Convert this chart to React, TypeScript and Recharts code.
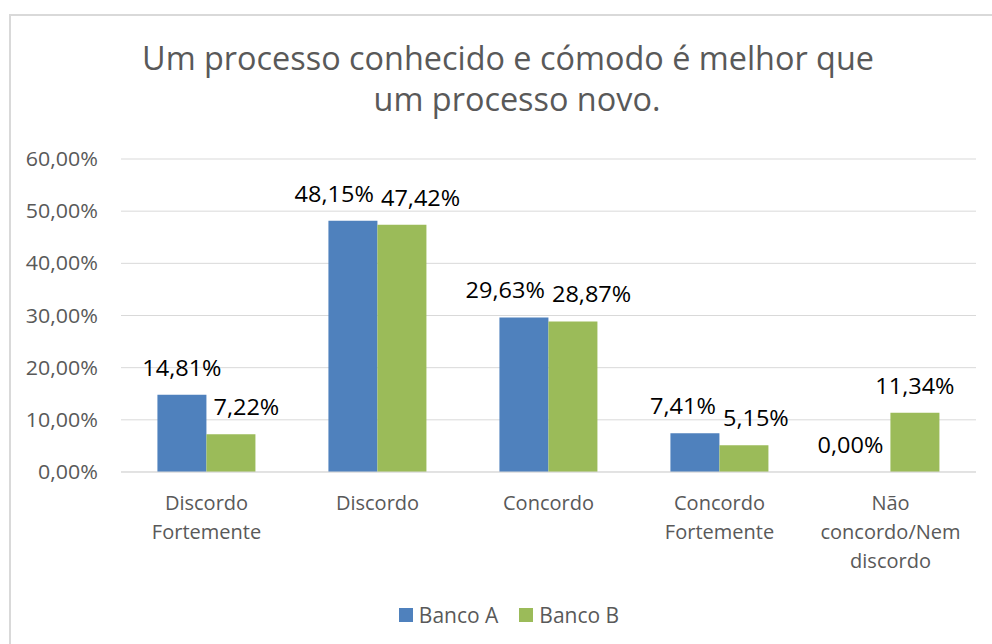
import { BarChart, Bar, XAxis, YAxis, CartesianGrid, Legend, LabelList } from "recharts";

const categories = [
  "Discordo\nFortemente",
  "Discordo",
  "Concordo",
  "Concordo\nFortemente",
  "Não\nconcordo/Nem\ndiscordo",
];
const bancoA = [14.81, 48.15, 29.63, 7.41, 0.0];
const bancoB = [7.22, 47.42, 28.87, 5.15, 11.34];
const yTicks = [0, 10, 20, 30, 40, 50, 60];
const seriesNames = ["Banco A", "Banco B"];
const titleLines = ["Um processo conhecido e cómodo é melhor que", "um processo novo."];

const data = categories.map((name, i) => ({ name, a: bancoA[i], b: bancoB[i] }));

const FONT = '"Open Sans", sans-serif';
const GRAY = "#595959";
const GRID = "#D9D9D9";
const BLUE = "#4F81BD";
const GREEN = "#9BBB59";

// plot box
const PLOT_TOP = 159;
const PLOT_LEFT = 121;
const Y_MAX = 60;

const LABEL_SIZE = 21;
const LABEL_SX = 1.12;
const GAP = 7;

const fmt = (v: number) => v.toFixed(2).replace(".", ",") + "%";

let ctx: CanvasRenderingContext2D | null = null;
function textWidth(s: string, size: number) {
  if (!ctx) ctx = document.createElement("canvas").getContext("2d");
  if (!ctx) return s.length * size * 0.56;
  ctx.font = `${size}px "Open Sans"`;
  return ctx.measureText(s).width;
}

// nudge the two labels of a category apart, the way Excel does
function placeLabels(i: number, barAX: number, bw: number, base: number) {
  const ppu = (base - PLOT_TOP) / Y_MAX;
  const topA = base - bancoA[i] * ppu;
  const topB = base - bancoB[i] * ppu;
  const wA = textWidth(fmt(bancoA[i]), LABEL_SIZE) * LABEL_SX;
  const wB = textWidth(fmt(bancoB[i]), LABEL_SIZE) * LABEL_SX;
  let cA = barAX + bw / 2;
  let cB = barAX + bw * 1.5;
  const yA = topA - 19;
  const yB = topB - 19;
  const mid = barAX + bw;

  if (yA + 4 > topB && cA + wA / 2 > mid - GAP) cA = mid - GAP - wA / 2;
  if (yB + 4 > topA && cB - wB / 2 < mid + GAP) cB = mid + GAP + wB / 2;

  const need = (wA + wB) / 2 + GAP;
  if (Math.abs(yA - yB) < 20 && cB - cA < need) {
    const d = need - (cB - cA);
    cA -= d / 2;
    cB += d / 2;
  }
  return { cA, cB, yA, yB };
}

const LabelText = ({ x, y, v }: { x: number; y: number; v: number }) => (
  <text
    transform={`translate(${x},${y}) scale(${LABEL_SX},1)`}
    textAnchor="middle"
    fontSize={LABEL_SIZE}
    fontFamily={FONT}
    fill="#000"
  >
    {fmt(v)}
  </text>
);

// both labels of a category are drawn from the Banco B bar (a 0 bar gets no label entry)
const PairLabel = (props: any) => {
  const x = Number(props.x);
  const y = Number(props.y);
  const width = Number(props.width);
  const height = Number(props.height);
  const index = props.index;
  const p = placeLabels(index, x - width, width, y + height);
  return (
    <g>
      <LabelText x={p.cA} y={p.yA} v={bancoA[index]} />
      <LabelText x={p.cB} y={p.yB} v={bancoB[index]} />
    </g>
  );
};

const YTick = (props: any) => {
  const { y, payload } = props;
  return (
    <text
      transform={`translate(${PLOT_LEFT - 23},${y + 7}) scale(1.07,1)`}
      textAnchor="end"
      fontSize={20}
      fontFamily={FONT}
      fill={GRAY}
    >
      {fmt(payload.value)}
    </text>
  );
};

const XTick = (props: any) => {
  const { x, y, payload } = props;
  const lines = String(payload.value).split("\n");
  return (
    <text textAnchor="middle" fontSize={20} fontFamily={FONT} fill={GRAY}>
      {lines.map((l, k) => (
        <tspan key={k} x={x} y={y + 38 + k * 29}>
          {l}
        </tspan>
      ))}
    </text>
  );
};

const LegendBox = () => (
  <div
    style={{
      display: "flex",
      justifyContent: "center",
      alignItems: "center",
      height: 24,
      fontFamily: FONT,
      fontSize: 21,
      lineHeight: "24px",
      color: GRAY,
    }}
  >
    {seriesNames.map((n, k) => (
      <div key={n} style={{ display: "flex", alignItems: "center", marginLeft: k ? 21 : 0 }}>
        <span style={{ width: 14, height: 14, background: k ? GREEN : BLUE, marginRight: 6 }} />
        <span>{n}</span>
      </div>
    ))}
  </div>
);

export default function App() {
  return (
    <div
      style={{
        position: "absolute",
        left: 0,
        top: 0,
        width: 992,
        height: 644,
        overflow: "hidden",
        background: "#fff",
      }}
    >
      <div
        style={{
          position: "absolute",
          left: 9,
          top: 14,
          width: 1100,
          height: 700,
          border: `2px solid ${GRID}`,
        }}
      />
      <div style={{ position: "absolute", left: 0, top: 0 }}>
        <BarChart
          width={992}
          height={644}
          data={data}
          margin={{ top: PLOT_TOP, right: 16, left: PLOT_LEFT - 100, bottom: 62 }}
          barCategoryGap="21.3%"
          barGap={0}
        >
          <CartesianGrid vertical={false} stroke={GRID} />
          <XAxis
            dataKey="name"
            interval={0}
            tick={<XTick />}
            tickLine={false}
            tickSize={0}
            tickMargin={0}
            axisLine={{ stroke: GRID }}
            height={110}
          />
          <YAxis
            domain={[0, Y_MAX]}
            ticks={yTicks}
            interval={0}
            tick={<YTick />}
            tickLine={false}
            axisLine={false}
            width={100}
          />
          <Legend
            verticalAlign="middle"
            layout="horizontal"
            align="center"
            content={() => <LegendBox />}
            wrapperStyle={{ top: 603, left: 0, width: 1018, height: 24 }}
          />
          <Bar dataKey="a" name={seriesNames[0]} fill={BLUE} isAnimationActive={false} />
          <Bar dataKey="b" name={seriesNames[1]} fill={GREEN} isAnimationActive={false}>
            <LabelList dataKey="b" content={<PairLabel />} />
          </Bar>
        </BarChart>
      </div>
      {titleLines.map((t, k) => (
        <div
          key={k}
          style={{
            position: "absolute",
            left: k ? 517 : 508,
            top: k ? 82.4 : 41.4,
            transform: "translateX(-50%)",
            whiteSpace: "nowrap",
            fontFamily: FONT,
            fontSize: 32.4,
            lineHeight: "32px",
            color: GRAY,
          }}
        >
          {t}
        </div>
      ))}
    </div>
  );
}
